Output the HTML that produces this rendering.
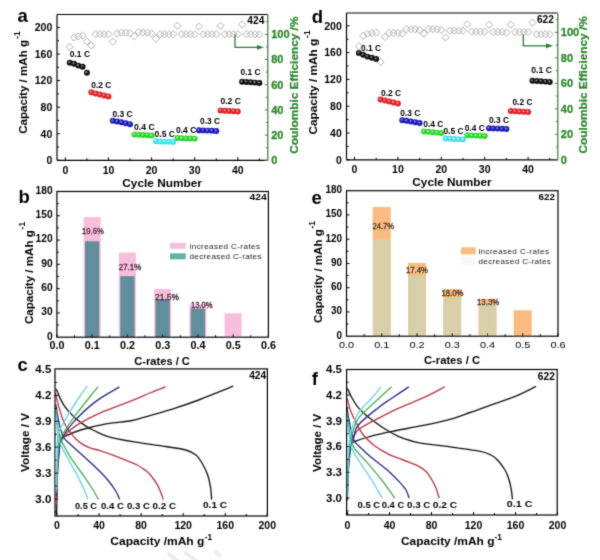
<!DOCTYPE html>
<html><head><meta charset="utf-8"><title>Rate performance</title>
<style>html,body{margin:0;padding:0;background:#fff;} svg{display:block;} text{font-family:'Liberation Sans', Arial, sans-serif;}</style>
</head><body>
<svg width="600" height="560" viewBox="0 0 600 560">
<defs><filter id="soft" x="0" y="0" width="600" height="560" filterUnits="userSpaceOnUse"><feConvolveMatrix order="3" kernelMatrix="0.0367 0.1915 0.0367 0.1915 1 0.1915 0.0367 0.1915 0.0367" divisor="1.9127" edgeMode="duplicate"/></filter></defs>
<rect width="600" height="560" fill="#fff"/>
<g filter="url(#soft)">
<path d="M69.71,43.4 L73.31,47 L69.71,50.6 L66.11,47 Z" fill="none" stroke="#a8a8a8" stroke-width="0.9"/>
<path d="M74.02,33.9 L77.62,37.5 L74.02,41.1 L70.42,37.5 Z" fill="none" stroke="#a8a8a8" stroke-width="0.9"/>
<path d="M78.33,32.8 L81.93,36.4 L78.33,40 L74.73,36.4 Z" fill="none" stroke="#a8a8a8" stroke-width="0.9"/>
<path d="M82.64,32 L86.24,35.6 L82.64,39.2 L79.04,35.6 Z" fill="none" stroke="#a8a8a8" stroke-width="0.9"/>
<path d="M86.95,37.9 L90.55,41.5 L86.95,45.1 L83.35,41.5 Z" fill="none" stroke="#a8a8a8" stroke-width="0.9"/>
<path d="M91.26,41.9 L94.86,45.5 L91.26,49.1 L87.66,45.5 Z" fill="none" stroke="#a8a8a8" stroke-width="0.9"/>
<path d="M95.57,30.6 L99.17,34.2 L95.57,37.8 L91.97,34.2 Z" fill="none" stroke="#a8a8a8" stroke-width="0.9"/>
<path d="M99.88,30.6 L103.48,34.2 L99.88,37.8 L96.28,34.2 Z" fill="none" stroke="#a8a8a8" stroke-width="0.9"/>
<path d="M104.19,30.6 L107.79,34.2 L104.19,37.8 L100.59,34.2 Z" fill="none" stroke="#a8a8a8" stroke-width="0.9"/>
<path d="M108.5,30.6 L112.1,34.2 L108.5,37.8 L104.9,34.2 Z" fill="none" stroke="#a8a8a8" stroke-width="0.9"/>
<path d="M112.81,38.1 L116.41,41.7 L112.81,45.3 L109.21,41.7 Z" fill="none" stroke="#a8a8a8" stroke-width="0.9"/>
<path d="M117.12,29.9 L120.72,33.5 L117.12,37.1 L113.52,33.5 Z" fill="none" stroke="#a8a8a8" stroke-width="0.9"/>
<path d="M121.43,29.1 L125.03,32.7 L121.43,36.3 L117.83,32.7 Z" fill="none" stroke="#a8a8a8" stroke-width="0.9"/>
<path d="M125.74,29.1 L129.34,32.7 L125.74,36.3 L122.14,32.7 Z" fill="none" stroke="#a8a8a8" stroke-width="0.9"/>
<path d="M130.05,29.6 L133.65,33.2 L130.05,36.8 L126.45,33.2 Z" fill="none" stroke="#a8a8a8" stroke-width="0.9"/>
<path d="M134.36,32.6 L137.96,36.2 L134.36,39.8 L130.76,36.2 Z" fill="none" stroke="#a8a8a8" stroke-width="0.9"/>
<path d="M138.67,28.4 L142.27,32 L138.67,35.6 L135.07,32 Z" fill="none" stroke="#a8a8a8" stroke-width="0.9"/>
<path d="M142.98,29.1 L146.58,32.7 L142.98,36.3 L139.38,32.7 Z" fill="none" stroke="#a8a8a8" stroke-width="0.9"/>
<path d="M147.29,29.1 L150.89,32.7 L147.29,36.3 L143.69,32.7 Z" fill="none" stroke="#a8a8a8" stroke-width="0.9"/>
<path d="M151.6,29.9 L155.2,33.5 L151.6,37.1 L148,33.5 Z" fill="none" stroke="#a8a8a8" stroke-width="0.9"/>
<path d="M155.91,35.1 L159.51,38.7 L155.91,42.3 L152.31,38.7 Z" fill="none" stroke="#a8a8a8" stroke-width="0.9"/>
<path d="M160.22,30.6 L163.82,34.2 L160.22,37.8 L156.62,34.2 Z" fill="none" stroke="#a8a8a8" stroke-width="0.9"/>
<path d="M164.53,30.6 L168.13,34.2 L164.53,37.8 L160.93,34.2 Z" fill="none" stroke="#a8a8a8" stroke-width="0.9"/>
<path d="M168.84,30.6 L172.44,34.2 L168.84,37.8 L165.24,34.2 Z" fill="none" stroke="#a8a8a8" stroke-width="0.9"/>
<path d="M173.15,30.6 L176.75,34.2 L173.15,37.8 L169.55,34.2 Z" fill="none" stroke="#a8a8a8" stroke-width="0.9"/>
<path d="M177.46,22.2 L181.06,25.8 L177.46,29.4 L173.86,25.8 Z" fill="none" stroke="#a8a8a8" stroke-width="0.9"/>
<path d="M181.77,30.6 L185.37,34.2 L181.77,37.8 L178.17,34.2 Z" fill="none" stroke="#a8a8a8" stroke-width="0.9"/>
<path d="M186.08,30.6 L189.68,34.2 L186.08,37.8 L182.48,34.2 Z" fill="none" stroke="#a8a8a8" stroke-width="0.9"/>
<path d="M190.39,30.6 L193.99,34.2 L190.39,37.8 L186.79,34.2 Z" fill="none" stroke="#a8a8a8" stroke-width="0.9"/>
<path d="M194.7,30.6 L198.3,34.2 L194.7,37.8 L191.1,34.2 Z" fill="none" stroke="#a8a8a8" stroke-width="0.9"/>
<path d="M199.01,22.9 L202.61,26.5 L199.01,30.1 L195.41,26.5 Z" fill="none" stroke="#a8a8a8" stroke-width="0.9"/>
<path d="M203.32,30.6 L206.92,34.2 L203.32,37.8 L199.72,34.2 Z" fill="none" stroke="#a8a8a8" stroke-width="0.9"/>
<path d="M207.63,30.6 L211.23,34.2 L207.63,37.8 L204.03,34.2 Z" fill="none" stroke="#a8a8a8" stroke-width="0.9"/>
<path d="M211.94,30.6 L215.54,34.2 L211.94,37.8 L208.34,34.2 Z" fill="none" stroke="#a8a8a8" stroke-width="0.9"/>
<path d="M216.25,30.6 L219.85,34.2 L216.25,37.8 L212.65,34.2 Z" fill="none" stroke="#a8a8a8" stroke-width="0.9"/>
<path d="M220.56,22.2 L224.16,25.8 L220.56,29.4 L216.96,25.8 Z" fill="none" stroke="#a8a8a8" stroke-width="0.9"/>
<path d="M224.87,30.6 L228.47,34.2 L224.87,37.8 L221.27,34.2 Z" fill="none" stroke="#a8a8a8" stroke-width="0.9"/>
<path d="M229.18,30.6 L232.78,34.2 L229.18,37.8 L225.58,34.2 Z" fill="none" stroke="#a8a8a8" stroke-width="0.9"/>
<path d="M233.49,30.6 L237.09,34.2 L233.49,37.8 L229.89,34.2 Z" fill="none" stroke="#a8a8a8" stroke-width="0.9"/>
<path d="M237.8,30.6 L241.4,34.2 L237.8,37.8 L234.2,34.2 Z" fill="none" stroke="#a8a8a8" stroke-width="0.9"/>
<path d="M242.11,20.9 L245.71,24.5 L242.11,28.1 L238.51,24.5 Z" fill="none" stroke="#a8a8a8" stroke-width="0.9"/>
<path d="M246.42,30.6 L250.02,34.2 L246.42,37.8 L242.82,34.2 Z" fill="none" stroke="#a8a8a8" stroke-width="0.9"/>
<path d="M250.73,30.6 L254.33,34.2 L250.73,37.8 L247.13,34.2 Z" fill="none" stroke="#a8a8a8" stroke-width="0.9"/>
<path d="M255.04,30.6 L258.64,34.2 L255.04,37.8 L251.44,34.2 Z" fill="none" stroke="#a8a8a8" stroke-width="0.9"/>
<path d="M259.35,31 L262.95,34.6 L259.35,38.2 L255.75,34.6 Z" fill="none" stroke="#a8a8a8" stroke-width="0.9"/>
<path d="M235,34.2 L235,47.3 L259,47.3" fill="none" stroke="#2f7a34" stroke-width="1.3"/>
<path d="M264,47.3 L257,44.9 L257,49.7 Z" fill="#2f7a34"/>
<circle cx="69.71" cy="62.7" r="2.95" fill="#111"/>
<circle cx="69.21" cy="62.1" r="0.9" fill="#8a8a8a"/>
<circle cx="74.02" cy="63.7" r="2.95" fill="#111"/>
<circle cx="73.52" cy="63.1" r="0.9" fill="#8a8a8a"/>
<circle cx="78.33" cy="65.6" r="2.95" fill="#111"/>
<circle cx="77.83" cy="65" r="0.9" fill="#8a8a8a"/>
<circle cx="82.64" cy="66.7" r="2.95" fill="#111"/>
<circle cx="82.14" cy="66.1" r="0.9" fill="#8a8a8a"/>
<circle cx="86.95" cy="72.8" r="2.95" fill="#111"/>
<circle cx="86.45" cy="72.2" r="0.9" fill="#8a8a8a"/>
<circle cx="91.26" cy="92.3" r="2.95" fill="#e0202a"/>
<circle cx="90.76" cy="91.7" r="0.9" fill="#ff9a9a"/>
<circle cx="95.57" cy="93.5" r="2.95" fill="#e0202a"/>
<circle cx="95.07" cy="92.9" r="0.9" fill="#ff9a9a"/>
<circle cx="99.88" cy="94.5" r="2.95" fill="#e0202a"/>
<circle cx="99.38" cy="93.9" r="0.9" fill="#ff9a9a"/>
<circle cx="104.19" cy="95.5" r="2.95" fill="#e0202a"/>
<circle cx="103.69" cy="94.9" r="0.9" fill="#ff9a9a"/>
<circle cx="108.5" cy="96.5" r="2.95" fill="#e0202a"/>
<circle cx="108" cy="95.9" r="0.9" fill="#ff9a9a"/>
<circle cx="112.81" cy="120.8" r="2.95" fill="#1a1ab8"/>
<circle cx="112.31" cy="120.2" r="0.9" fill="#8a8aff"/>
<circle cx="117.12" cy="121.5" r="2.95" fill="#1a1ab8"/>
<circle cx="116.62" cy="120.9" r="0.9" fill="#8a8aff"/>
<circle cx="121.43" cy="122.3" r="2.95" fill="#1a1ab8"/>
<circle cx="120.93" cy="121.7" r="0.9" fill="#8a8aff"/>
<circle cx="125.74" cy="123.2" r="2.95" fill="#1a1ab8"/>
<circle cx="125.24" cy="122.6" r="0.9" fill="#8a8aff"/>
<circle cx="130.05" cy="124.2" r="2.95" fill="#1a1ab8"/>
<circle cx="129.55" cy="123.6" r="0.9" fill="#8a8aff"/>
<circle cx="134.36" cy="134.6" r="2.95" fill="#2ed42e"/>
<circle cx="133.86" cy="134" r="0.9" fill="#aaffaa"/>
<circle cx="138.67" cy="134.8" r="2.95" fill="#2ed42e"/>
<circle cx="138.17" cy="134.2" r="0.9" fill="#aaffaa"/>
<circle cx="142.98" cy="135" r="2.95" fill="#2ed42e"/>
<circle cx="142.48" cy="134.4" r="0.9" fill="#aaffaa"/>
<circle cx="147.29" cy="135.2" r="2.95" fill="#2ed42e"/>
<circle cx="146.79" cy="134.6" r="0.9" fill="#aaffaa"/>
<circle cx="151.6" cy="135.5" r="2.95" fill="#2ed42e"/>
<circle cx="151.1" cy="134.9" r="0.9" fill="#aaffaa"/>
<circle cx="155.91" cy="141.3" r="2.95" fill="#3fe0f0"/>
<circle cx="155.41" cy="140.7" r="0.9" fill="#c8ffff"/>
<circle cx="160.22" cy="141.5" r="2.95" fill="#3fe0f0"/>
<circle cx="159.72" cy="140.9" r="0.9" fill="#c8ffff"/>
<circle cx="164.53" cy="141.7" r="2.95" fill="#3fe0f0"/>
<circle cx="164.03" cy="141.1" r="0.9" fill="#c8ffff"/>
<circle cx="168.84" cy="141.8" r="2.95" fill="#3fe0f0"/>
<circle cx="168.34" cy="141.2" r="0.9" fill="#c8ffff"/>
<circle cx="173.15" cy="142" r="2.95" fill="#3fe0f0"/>
<circle cx="172.65" cy="141.4" r="0.9" fill="#c8ffff"/>
<circle cx="177.46" cy="138" r="2.95" fill="#2ed42e"/>
<circle cx="176.96" cy="137.4" r="0.9" fill="#aaffaa"/>
<circle cx="181.77" cy="138.2" r="2.95" fill="#2ed42e"/>
<circle cx="181.27" cy="137.6" r="0.9" fill="#aaffaa"/>
<circle cx="186.08" cy="138.4" r="2.95" fill="#2ed42e"/>
<circle cx="185.58" cy="137.8" r="0.9" fill="#aaffaa"/>
<circle cx="190.39" cy="138.5" r="2.95" fill="#2ed42e"/>
<circle cx="189.89" cy="137.9" r="0.9" fill="#aaffaa"/>
<circle cx="194.7" cy="138.6" r="2.95" fill="#2ed42e"/>
<circle cx="194.2" cy="138" r="0.9" fill="#aaffaa"/>
<circle cx="199.01" cy="130.2" r="2.95" fill="#1a1ab8"/>
<circle cx="198.51" cy="129.6" r="0.9" fill="#8a8aff"/>
<circle cx="203.32" cy="130.4" r="2.95" fill="#1a1ab8"/>
<circle cx="202.82" cy="129.8" r="0.9" fill="#8a8aff"/>
<circle cx="207.63" cy="130.6" r="2.95" fill="#1a1ab8"/>
<circle cx="207.13" cy="130" r="0.9" fill="#8a8aff"/>
<circle cx="211.94" cy="130.8" r="2.95" fill="#1a1ab8"/>
<circle cx="211.44" cy="130.2" r="0.9" fill="#8a8aff"/>
<circle cx="216.25" cy="131" r="2.95" fill="#1a1ab8"/>
<circle cx="215.75" cy="130.4" r="0.9" fill="#8a8aff"/>
<circle cx="220.56" cy="110.5" r="2.95" fill="#e0202a"/>
<circle cx="220.06" cy="109.9" r="0.9" fill="#ff9a9a"/>
<circle cx="224.87" cy="110.8" r="2.95" fill="#e0202a"/>
<circle cx="224.37" cy="110.2" r="0.9" fill="#ff9a9a"/>
<circle cx="229.18" cy="111" r="2.95" fill="#e0202a"/>
<circle cx="228.68" cy="110.4" r="0.9" fill="#ff9a9a"/>
<circle cx="233.49" cy="111.2" r="2.95" fill="#e0202a"/>
<circle cx="232.99" cy="110.6" r="0.9" fill="#ff9a9a"/>
<circle cx="237.8" cy="111.5" r="2.95" fill="#e0202a"/>
<circle cx="237.3" cy="110.9" r="0.9" fill="#ff9a9a"/>
<circle cx="242.11" cy="81.8" r="2.95" fill="#111"/>
<circle cx="241.61" cy="81.2" r="0.9" fill="#8a8a8a"/>
<circle cx="246.42" cy="82" r="2.95" fill="#111"/>
<circle cx="245.92" cy="81.4" r="0.9" fill="#8a8a8a"/>
<circle cx="250.73" cy="82.3" r="2.95" fill="#111"/>
<circle cx="250.23" cy="81.7" r="0.9" fill="#8a8a8a"/>
<circle cx="255.04" cy="82.6" r="2.95" fill="#111"/>
<circle cx="254.54" cy="82" r="0.9" fill="#8a8a8a"/>
<circle cx="259.35" cy="83" r="2.95" fill="#111"/>
<circle cx="258.85" cy="82.4" r="0.9" fill="#8a8a8a"/>
<text x="69.8" y="56.9" font-size="8.6" font-weight="bold" textLength="20.2" lengthAdjust="spacingAndGlyphs">0.1 C</text>
<text x="91.2" y="88.1" font-size="8.6" font-weight="bold" textLength="20.2" lengthAdjust="spacingAndGlyphs">0.2 C</text>
<text x="112.5" y="116.5" font-size="8.6" font-weight="bold" textLength="20.2" lengthAdjust="spacingAndGlyphs">0.3 C</text>
<text x="134" y="129.8" font-size="8.6" font-weight="bold" textLength="20.7" lengthAdjust="spacingAndGlyphs">0.4 C</text>
<text x="154.5" y="136.9" font-size="8.6" font-weight="bold" textLength="20.5" lengthAdjust="spacingAndGlyphs">0.5 C</text>
<text x="176" y="133.1" font-size="8.6" font-weight="bold" textLength="20.4" lengthAdjust="spacingAndGlyphs">0.4 C</text>
<text x="200" y="124.1" font-size="8.6" font-weight="bold" textLength="20" lengthAdjust="spacingAndGlyphs">0.3 C</text>
<text x="220.4" y="104.1" font-size="8.6" font-weight="bold" textLength="20.6" lengthAdjust="spacingAndGlyphs">0.2 C</text>
<text x="240.5" y="74.8" font-size="8.6" font-weight="bold" textLength="20" lengthAdjust="spacingAndGlyphs">0.1 C</text>
<line x1="57" y1="14.5" x2="267.8" y2="14.5" stroke="#000" stroke-width="1.2"/>
<line x1="57" y1="14.5" x2="57" y2="160.3" stroke="#000" stroke-width="1.2"/>
<line x1="57" y1="160.3" x2="267.8" y2="160.3" stroke="#000" stroke-width="1.2"/>
<line x1="267.8" y1="14.5" x2="267.8" y2="160.3" stroke="#527c52" stroke-width="1.3"/>
<line x1="65.4" y1="160.3" x2="65.4" y2="157.3" stroke="#000" stroke-width="1"/>
<line x1="86.95" y1="160.3" x2="86.95" y2="158.3" stroke="#000" stroke-width="1"/>
<line x1="108.5" y1="160.3" x2="108.5" y2="157.3" stroke="#000" stroke-width="1"/>
<line x1="130.05" y1="160.3" x2="130.05" y2="158.3" stroke="#000" stroke-width="1"/>
<line x1="151.6" y1="160.3" x2="151.6" y2="157.3" stroke="#000" stroke-width="1"/>
<line x1="173.15" y1="160.3" x2="173.15" y2="158.3" stroke="#000" stroke-width="1"/>
<line x1="194.7" y1="160.3" x2="194.7" y2="157.3" stroke="#000" stroke-width="1"/>
<line x1="216.25" y1="160.3" x2="216.25" y2="158.3" stroke="#000" stroke-width="1"/>
<line x1="237.8" y1="160.3" x2="237.8" y2="157.3" stroke="#000" stroke-width="1"/>
<line x1="259.35" y1="160.3" x2="259.35" y2="158.3" stroke="#000" stroke-width="1"/>
<line x1="57" y1="160.3" x2="60" y2="160.3" stroke="#000" stroke-width="1"/>
<line x1="57" y1="147.01" x2="59" y2="147.01" stroke="#000" stroke-width="1"/>
<line x1="57" y1="133.72" x2="60" y2="133.72" stroke="#000" stroke-width="1"/>
<line x1="57" y1="120.43" x2="59" y2="120.43" stroke="#000" stroke-width="1"/>
<line x1="57" y1="107.14" x2="60" y2="107.14" stroke="#000" stroke-width="1"/>
<line x1="57" y1="93.85" x2="59" y2="93.85" stroke="#000" stroke-width="1"/>
<line x1="57" y1="80.56" x2="60" y2="80.56" stroke="#000" stroke-width="1"/>
<line x1="57" y1="67.27" x2="59" y2="67.27" stroke="#000" stroke-width="1"/>
<line x1="57" y1="53.98" x2="60" y2="53.98" stroke="#000" stroke-width="1"/>
<line x1="57" y1="40.69" x2="59" y2="40.69" stroke="#000" stroke-width="1"/>
<line x1="57" y1="27.4" x2="60" y2="27.4" stroke="#000" stroke-width="1"/>
<line x1="267.8" y1="160.3" x2="264.8" y2="160.3" stroke="#527c52" stroke-width="1"/>
<line x1="267.8" y1="147.7" x2="265.8" y2="147.7" stroke="#527c52" stroke-width="1"/>
<line x1="267.8" y1="135.1" x2="264.8" y2="135.1" stroke="#527c52" stroke-width="1"/>
<line x1="267.8" y1="122.5" x2="265.8" y2="122.5" stroke="#527c52" stroke-width="1"/>
<line x1="267.8" y1="109.9" x2="264.8" y2="109.9" stroke="#527c52" stroke-width="1"/>
<line x1="267.8" y1="97.3" x2="265.8" y2="97.3" stroke="#527c52" stroke-width="1"/>
<line x1="267.8" y1="84.7" x2="264.8" y2="84.7" stroke="#527c52" stroke-width="1"/>
<line x1="267.8" y1="72.1" x2="265.8" y2="72.1" stroke="#527c52" stroke-width="1"/>
<line x1="267.8" y1="59.5" x2="264.8" y2="59.5" stroke="#527c52" stroke-width="1"/>
<line x1="267.8" y1="46.9" x2="265.8" y2="46.9" stroke="#527c52" stroke-width="1"/>
<line x1="267.8" y1="34.3" x2="264.8" y2="34.3" stroke="#527c52" stroke-width="1"/>
<line x1="267.8" y1="21.7" x2="265.8" y2="21.7" stroke="#527c52" stroke-width="1"/>
<text x="65.4" y="173.78" font-size="10.5" font-weight="bold" text-anchor="middle">0</text>
<text x="108.5" y="173.78" font-size="10.5" font-weight="bold" text-anchor="middle">10</text>
<text x="151.6" y="173.78" font-size="10.5" font-weight="bold" text-anchor="middle">20</text>
<text x="194.7" y="173.78" font-size="10.5" font-weight="bold" text-anchor="middle">30</text>
<text x="237.8" y="173.78" font-size="10.5" font-weight="bold" text-anchor="middle">40</text>
<text x="52.3" y="164.08" font-size="10.5" font-weight="bold" text-anchor="end">0</text>
<text x="52.3" y="137.5" font-size="10.5" font-weight="bold" text-anchor="end">40</text>
<text x="52.3" y="110.92" font-size="10.5" font-weight="bold" text-anchor="end">80</text>
<text x="52.3" y="84.34" font-size="10.5" font-weight="bold" text-anchor="end">120</text>
<text x="52.3" y="57.76" font-size="10.5" font-weight="bold" text-anchor="end">160</text>
<text x="52.3" y="31.18" font-size="10.5" font-weight="bold" text-anchor="end">200</text>
<text x="271.2" y="164.26" font-size="11" font-weight="bold" fill="#2b872b" stroke="#2b872b" stroke-width="0.3">0</text>
<text x="271.2" y="139.06" font-size="11" font-weight="bold" fill="#2b872b" stroke="#2b872b" stroke-width="0.3">20</text>
<text x="271.2" y="113.86" font-size="11" font-weight="bold" fill="#2b872b" stroke="#2b872b" stroke-width="0.3">40</text>
<text x="271.2" y="88.66" font-size="11" font-weight="bold" fill="#2b872b" stroke="#2b872b" stroke-width="0.3">60</text>
<text x="271.2" y="63.46" font-size="11" font-weight="bold" fill="#2b872b" stroke="#2b872b" stroke-width="0.3">80</text>
<text x="271.2" y="38.26" font-size="11" font-weight="bold" fill="#2b872b" stroke="#2b872b" stroke-width="0.3">100</text>
<text x="247.3" y="23.8" font-size="10" font-weight="bold" textLength="17" lengthAdjust="spacingAndGlyphs">424</text>
<text x="122.3" y="186.6" font-size="11.6" font-weight="bold" textLength="79.6" lengthAdjust="spacingAndGlyphs">Cycle Number</text>
<text transform="translate(26.8,133.8) rotate(-90)" font-size="11.6" font-weight="bold" textLength="93.8" lengthAdjust="spacingAndGlyphs">Capacity / mAh g</text>
<text transform="translate(20.4,38.8) rotate(-90)" font-size="8.4" font-weight="bold">-1</text>
<text transform="translate(297.8,153.8) rotate(-90)" font-size="11.6" font-weight="bold" fill="#2b872b" stroke="#2b872b" stroke-width="0.25" textLength="137.2" lengthAdjust="spacingAndGlyphs">Coulombic Efficiency /%</text>
<text x="17.6" y="22.4" font-size="18.5" font-weight="bold">a</text>
<path d="M358.84,42.5 L362.44,46.1 L358.84,49.7 L355.24,46.1 Z" fill="none" stroke="#a8a8a8" stroke-width="0.9"/>
<path d="M363.18,32 L366.78,35.6 L363.18,39.2 L359.58,35.6 Z" fill="none" stroke="#a8a8a8" stroke-width="0.9"/>
<path d="M367.52,30.2 L371.12,33.8 L367.52,37.4 L363.92,33.8 Z" fill="none" stroke="#a8a8a8" stroke-width="0.9"/>
<path d="M371.86,29.7 L375.46,33.3 L371.86,36.9 L368.26,33.3 Z" fill="none" stroke="#a8a8a8" stroke-width="0.9"/>
<path d="M376.2,29.1 L379.8,32.7 L376.2,36.3 L372.6,32.7 Z" fill="none" stroke="#a8a8a8" stroke-width="0.9"/>
<path d="M380.54,58.4 L384.14,62 L380.54,65.6 L376.94,62 Z" fill="none" stroke="#a8a8a8" stroke-width="0.9"/>
<path d="M384.88,33.3 L388.48,36.9 L384.88,40.5 L381.28,36.9 Z" fill="none" stroke="#a8a8a8" stroke-width="0.9"/>
<path d="M389.22,29.4 L392.82,33 L389.22,36.6 L385.62,33 Z" fill="none" stroke="#a8a8a8" stroke-width="0.9"/>
<path d="M393.56,29.4 L397.16,33 L393.56,36.6 L389.96,33 Z" fill="none" stroke="#a8a8a8" stroke-width="0.9"/>
<path d="M397.9,29.4 L401.5,33 L397.9,36.6 L394.3,33 Z" fill="none" stroke="#a8a8a8" stroke-width="0.9"/>
<path d="M402.24,30.1 L405.84,33.7 L402.24,37.3 L398.64,33.7 Z" fill="none" stroke="#a8a8a8" stroke-width="0.9"/>
<path d="M406.58,25.6 L410.18,29.2 L406.58,32.8 L402.98,29.2 Z" fill="none" stroke="#a8a8a8" stroke-width="0.9"/>
<path d="M410.92,25.6 L414.52,29.2 L410.92,32.8 L407.32,29.2 Z" fill="none" stroke="#a8a8a8" stroke-width="0.9"/>
<path d="M415.26,25.6 L418.86,29.2 L415.26,32.8 L411.66,29.2 Z" fill="none" stroke="#a8a8a8" stroke-width="0.9"/>
<path d="M419.6,26.4 L423.2,30 L419.6,33.6 L416,30 Z" fill="none" stroke="#a8a8a8" stroke-width="0.9"/>
<path d="M423.94,29.9 L427.54,33.5 L423.94,37.1 L420.34,33.5 Z" fill="none" stroke="#a8a8a8" stroke-width="0.9"/>
<path d="M428.28,25.6 L431.88,29.2 L428.28,32.8 L424.68,29.2 Z" fill="none" stroke="#a8a8a8" stroke-width="0.9"/>
<path d="M432.62,25.6 L436.22,29.2 L432.62,32.8 L429.02,29.2 Z" fill="none" stroke="#a8a8a8" stroke-width="0.9"/>
<path d="M436.96,25.6 L440.56,29.2 L436.96,32.8 L433.36,29.2 Z" fill="none" stroke="#a8a8a8" stroke-width="0.9"/>
<path d="M441.3,26.4 L444.9,30 L441.3,33.6 L437.7,30 Z" fill="none" stroke="#a8a8a8" stroke-width="0.9"/>
<path d="M445.64,33.9 L449.24,37.5 L445.64,41.1 L442.04,37.5 Z" fill="none" stroke="#a8a8a8" stroke-width="0.9"/>
<path d="M449.98,27.1 L453.58,30.7 L449.98,34.3 L446.38,30.7 Z" fill="none" stroke="#a8a8a8" stroke-width="0.9"/>
<path d="M454.32,27.1 L457.92,30.7 L454.32,34.3 L450.72,30.7 Z" fill="none" stroke="#a8a8a8" stroke-width="0.9"/>
<path d="M458.66,27.1 L462.26,30.7 L458.66,34.3 L455.06,30.7 Z" fill="none" stroke="#a8a8a8" stroke-width="0.9"/>
<path d="M463,27.1 L466.6,30.7 L463,34.3 L459.4,30.7 Z" fill="none" stroke="#a8a8a8" stroke-width="0.9"/>
<path d="M467.34,20.6 L470.94,24.2 L467.34,27.8 L463.74,24.2 Z" fill="none" stroke="#a8a8a8" stroke-width="0.9"/>
<path d="M471.68,28.1 L475.28,31.7 L471.68,35.3 L468.08,31.7 Z" fill="none" stroke="#a8a8a8" stroke-width="0.9"/>
<path d="M476.02,28.1 L479.62,31.7 L476.02,35.3 L472.42,31.7 Z" fill="none" stroke="#a8a8a8" stroke-width="0.9"/>
<path d="M480.36,28.1 L483.96,31.7 L480.36,35.3 L476.76,31.7 Z" fill="none" stroke="#a8a8a8" stroke-width="0.9"/>
<path d="M484.7,28.1 L488.3,31.7 L484.7,35.3 L481.1,31.7 Z" fill="none" stroke="#a8a8a8" stroke-width="0.9"/>
<path d="M489.04,21.1 L492.64,24.7 L489.04,28.3 L485.44,24.7 Z" fill="none" stroke="#a8a8a8" stroke-width="0.9"/>
<path d="M493.38,28.4 L496.98,32 L493.38,35.6 L489.78,32 Z" fill="none" stroke="#a8a8a8" stroke-width="0.9"/>
<path d="M497.72,28.4 L501.32,32 L497.72,35.6 L494.12,32 Z" fill="none" stroke="#a8a8a8" stroke-width="0.9"/>
<path d="M502.06,28.4 L505.66,32 L502.06,35.6 L498.46,32 Z" fill="none" stroke="#a8a8a8" stroke-width="0.9"/>
<path d="M506.4,28.9 L510,32.5 L506.4,36.1 L502.8,32.5 Z" fill="none" stroke="#a8a8a8" stroke-width="0.9"/>
<path d="M510.74,21.1 L514.34,24.7 L510.74,28.3 L507.14,24.7 Z" fill="none" stroke="#a8a8a8" stroke-width="0.9"/>
<path d="M515.08,28.4 L518.68,32 L515.08,35.6 L511.48,32 Z" fill="none" stroke="#a8a8a8" stroke-width="0.9"/>
<path d="M519.42,28.4 L523.02,32 L519.42,35.6 L515.82,32 Z" fill="none" stroke="#a8a8a8" stroke-width="0.9"/>
<path d="M523.76,28.4 L527.36,32 L523.76,35.6 L520.16,32 Z" fill="none" stroke="#a8a8a8" stroke-width="0.9"/>
<path d="M528.1,28.4 L531.7,32 L528.1,35.6 L524.5,32 Z" fill="none" stroke="#a8a8a8" stroke-width="0.9"/>
<path d="M532.44,18.9 L536.04,22.5 L532.44,26.1 L528.84,22.5 Z" fill="none" stroke="#a8a8a8" stroke-width="0.9"/>
<path d="M536.78,30.6 L540.38,34.2 L536.78,37.8 L533.18,34.2 Z" fill="none" stroke="#a8a8a8" stroke-width="0.9"/>
<path d="M541.12,30.6 L544.72,34.2 L541.12,37.8 L537.52,34.2 Z" fill="none" stroke="#a8a8a8" stroke-width="0.9"/>
<path d="M545.46,30.6 L549.06,34.2 L545.46,37.8 L541.86,34.2 Z" fill="none" stroke="#a8a8a8" stroke-width="0.9"/>
<path d="M549.8,30.6 L553.4,34.2 L549.8,37.8 L546.2,34.2 Z" fill="none" stroke="#a8a8a8" stroke-width="0.9"/>
<path d="M523.3,34.2 L523.3,45.8 L548,45.8" fill="none" stroke="#2f7a34" stroke-width="1.3"/>
<path d="M553,45.8 L546,43.4 L546,48.2 Z" fill="#2f7a34"/>
<circle cx="358.84" cy="52.9" r="2.95" fill="#111"/>
<circle cx="358.34" cy="52.3" r="0.9" fill="#8a8a8a"/>
<circle cx="363.18" cy="54.7" r="2.95" fill="#111"/>
<circle cx="362.68" cy="54.1" r="0.9" fill="#8a8a8a"/>
<circle cx="367.52" cy="56.6" r="2.95" fill="#111"/>
<circle cx="367.02" cy="56" r="0.9" fill="#8a8a8a"/>
<circle cx="371.86" cy="57.7" r="2.95" fill="#111"/>
<circle cx="371.36" cy="57.1" r="0.9" fill="#8a8a8a"/>
<circle cx="376.2" cy="59" r="2.95" fill="#111"/>
<circle cx="375.7" cy="58.4" r="0.9" fill="#8a8a8a"/>
<circle cx="380.54" cy="99.5" r="2.95" fill="#e0202a"/>
<circle cx="380.04" cy="98.9" r="0.9" fill="#ff9a9a"/>
<circle cx="384.88" cy="100.5" r="2.95" fill="#e0202a"/>
<circle cx="384.38" cy="99.9" r="0.9" fill="#ff9a9a"/>
<circle cx="389.22" cy="101.5" r="2.95" fill="#e0202a"/>
<circle cx="388.72" cy="100.9" r="0.9" fill="#ff9a9a"/>
<circle cx="393.56" cy="102.5" r="2.95" fill="#e0202a"/>
<circle cx="393.06" cy="101.9" r="0.9" fill="#ff9a9a"/>
<circle cx="397.9" cy="103.5" r="2.95" fill="#e0202a"/>
<circle cx="397.4" cy="102.9" r="0.9" fill="#ff9a9a"/>
<circle cx="402.24" cy="120.3" r="2.95" fill="#1a1ab8"/>
<circle cx="401.74" cy="119.7" r="0.9" fill="#8a8aff"/>
<circle cx="406.58" cy="120.8" r="2.95" fill="#1a1ab8"/>
<circle cx="406.08" cy="120.2" r="0.9" fill="#8a8aff"/>
<circle cx="410.92" cy="121.5" r="2.95" fill="#1a1ab8"/>
<circle cx="410.42" cy="120.9" r="0.9" fill="#8a8aff"/>
<circle cx="415.26" cy="122.2" r="2.95" fill="#1a1ab8"/>
<circle cx="414.76" cy="121.6" r="0.9" fill="#8a8aff"/>
<circle cx="419.6" cy="123" r="2.95" fill="#1a1ab8"/>
<circle cx="419.1" cy="122.4" r="0.9" fill="#8a8aff"/>
<circle cx="423.94" cy="131.5" r="2.95" fill="#2ed42e"/>
<circle cx="423.44" cy="130.9" r="0.9" fill="#aaffaa"/>
<circle cx="428.28" cy="131.8" r="2.95" fill="#2ed42e"/>
<circle cx="427.78" cy="131.2" r="0.9" fill="#aaffaa"/>
<circle cx="432.62" cy="132.2" r="2.95" fill="#2ed42e"/>
<circle cx="432.12" cy="131.6" r="0.9" fill="#aaffaa"/>
<circle cx="436.96" cy="132.6" r="2.95" fill="#2ed42e"/>
<circle cx="436.46" cy="132" r="0.9" fill="#aaffaa"/>
<circle cx="441.3" cy="133" r="2.95" fill="#2ed42e"/>
<circle cx="440.8" cy="132.4" r="0.9" fill="#aaffaa"/>
<circle cx="445.64" cy="138.5" r="2.95" fill="#3fe0f0"/>
<circle cx="445.14" cy="137.9" r="0.9" fill="#c8ffff"/>
<circle cx="449.98" cy="138.7" r="2.95" fill="#3fe0f0"/>
<circle cx="449.48" cy="138.1" r="0.9" fill="#c8ffff"/>
<circle cx="454.32" cy="139" r="2.95" fill="#3fe0f0"/>
<circle cx="453.82" cy="138.4" r="0.9" fill="#c8ffff"/>
<circle cx="458.66" cy="139.2" r="2.95" fill="#3fe0f0"/>
<circle cx="458.16" cy="138.6" r="0.9" fill="#c8ffff"/>
<circle cx="463" cy="139.4" r="2.95" fill="#3fe0f0"/>
<circle cx="462.5" cy="138.8" r="0.9" fill="#c8ffff"/>
<circle cx="467.34" cy="135.2" r="2.95" fill="#2ed42e"/>
<circle cx="466.84" cy="134.6" r="0.9" fill="#aaffaa"/>
<circle cx="471.68" cy="135.4" r="2.95" fill="#2ed42e"/>
<circle cx="471.18" cy="134.8" r="0.9" fill="#aaffaa"/>
<circle cx="476.02" cy="135.6" r="2.95" fill="#2ed42e"/>
<circle cx="475.52" cy="135" r="0.9" fill="#aaffaa"/>
<circle cx="480.36" cy="135.8" r="2.95" fill="#2ed42e"/>
<circle cx="479.86" cy="135.2" r="0.9" fill="#aaffaa"/>
<circle cx="484.7" cy="136" r="2.95" fill="#2ed42e"/>
<circle cx="484.2" cy="135.4" r="0.9" fill="#aaffaa"/>
<circle cx="489.04" cy="128.2" r="2.95" fill="#1a1ab8"/>
<circle cx="488.54" cy="127.6" r="0.9" fill="#8a8aff"/>
<circle cx="493.38" cy="128.4" r="2.95" fill="#1a1ab8"/>
<circle cx="492.88" cy="127.8" r="0.9" fill="#8a8aff"/>
<circle cx="497.72" cy="128.6" r="2.95" fill="#1a1ab8"/>
<circle cx="497.22" cy="128" r="0.9" fill="#8a8aff"/>
<circle cx="502.06" cy="128.8" r="2.95" fill="#1a1ab8"/>
<circle cx="501.56" cy="128.2" r="0.9" fill="#8a8aff"/>
<circle cx="506.4" cy="129" r="2.95" fill="#1a1ab8"/>
<circle cx="505.9" cy="128.4" r="0.9" fill="#8a8aff"/>
<circle cx="510.74" cy="111" r="2.95" fill="#e0202a"/>
<circle cx="510.24" cy="110.4" r="0.9" fill="#ff9a9a"/>
<circle cx="515.08" cy="111.3" r="2.95" fill="#e0202a"/>
<circle cx="514.58" cy="110.7" r="0.9" fill="#ff9a9a"/>
<circle cx="519.42" cy="111.5" r="2.95" fill="#e0202a"/>
<circle cx="518.92" cy="110.9" r="0.9" fill="#ff9a9a"/>
<circle cx="523.76" cy="111.8" r="2.95" fill="#e0202a"/>
<circle cx="523.26" cy="111.2" r="0.9" fill="#ff9a9a"/>
<circle cx="528.1" cy="112" r="2.95" fill="#e0202a"/>
<circle cx="527.6" cy="111.4" r="0.9" fill="#ff9a9a"/>
<circle cx="532.44" cy="80.8" r="2.95" fill="#111"/>
<circle cx="531.94" cy="80.2" r="0.9" fill="#8a8a8a"/>
<circle cx="536.78" cy="81" r="2.95" fill="#111"/>
<circle cx="536.28" cy="80.4" r="0.9" fill="#8a8a8a"/>
<circle cx="541.12" cy="81.3" r="2.95" fill="#111"/>
<circle cx="540.62" cy="80.7" r="0.9" fill="#8a8a8a"/>
<circle cx="545.46" cy="81.6" r="2.95" fill="#111"/>
<circle cx="544.96" cy="81" r="0.9" fill="#8a8a8a"/>
<circle cx="549.8" cy="82" r="2.95" fill="#111"/>
<circle cx="549.3" cy="81.4" r="0.9" fill="#8a8a8a"/>
<text x="361" y="50.7" font-size="8.6" font-weight="bold" textLength="20.2" lengthAdjust="spacingAndGlyphs">0.1 C</text>
<text x="381" y="95.9" font-size="8.6" font-weight="bold" textLength="20.2" lengthAdjust="spacingAndGlyphs">0.2 C</text>
<text x="400.3" y="116.1" font-size="8.6" font-weight="bold" textLength="20.1" lengthAdjust="spacingAndGlyphs">0.3 C</text>
<text x="423.2" y="126.7" font-size="8.6" font-weight="bold" textLength="20.2" lengthAdjust="spacingAndGlyphs">0.4 C</text>
<text x="443.4" y="134.1" font-size="8.6" font-weight="bold" textLength="20.1" lengthAdjust="spacingAndGlyphs">0.5 C</text>
<text x="464.7" y="131.1" font-size="8.6" font-weight="bold" textLength="20.1" lengthAdjust="spacingAndGlyphs">0.4 C</text>
<text x="488.9" y="123.1" font-size="8.6" font-weight="bold" textLength="20.1" lengthAdjust="spacingAndGlyphs">0.3 C</text>
<text x="512.4" y="105.1" font-size="8.6" font-weight="bold" textLength="20.1" lengthAdjust="spacingAndGlyphs">0.2 C</text>
<text x="531.3" y="73.4" font-size="8.6" font-weight="bold" textLength="20.6" lengthAdjust="spacingAndGlyphs">0.1 C</text>
<line x1="346.5" y1="13" x2="557.8" y2="13" stroke="#000" stroke-width="1.2"/>
<line x1="346.5" y1="13" x2="346.5" y2="159.8" stroke="#000" stroke-width="1.2"/>
<line x1="346.5" y1="159.8" x2="557.8" y2="159.8" stroke="#000" stroke-width="1.2"/>
<line x1="557.8" y1="13" x2="557.8" y2="159.8" stroke="#527c52" stroke-width="1.3"/>
<line x1="354.5" y1="159.8" x2="354.5" y2="156.8" stroke="#000" stroke-width="1"/>
<line x1="376.2" y1="159.8" x2="376.2" y2="157.8" stroke="#000" stroke-width="1"/>
<line x1="397.9" y1="159.8" x2="397.9" y2="156.8" stroke="#000" stroke-width="1"/>
<line x1="419.6" y1="159.8" x2="419.6" y2="157.8" stroke="#000" stroke-width="1"/>
<line x1="441.3" y1="159.8" x2="441.3" y2="156.8" stroke="#000" stroke-width="1"/>
<line x1="463" y1="159.8" x2="463" y2="157.8" stroke="#000" stroke-width="1"/>
<line x1="484.7" y1="159.8" x2="484.7" y2="156.8" stroke="#000" stroke-width="1"/>
<line x1="506.4" y1="159.8" x2="506.4" y2="157.8" stroke="#000" stroke-width="1"/>
<line x1="528.1" y1="159.8" x2="528.1" y2="156.8" stroke="#000" stroke-width="1"/>
<line x1="549.8" y1="159.8" x2="549.8" y2="157.8" stroke="#000" stroke-width="1"/>
<line x1="346.5" y1="159.8" x2="349.5" y2="159.8" stroke="#000" stroke-width="1"/>
<line x1="346.5" y1="146.4" x2="348.5" y2="146.4" stroke="#000" stroke-width="1"/>
<line x1="346.5" y1="133" x2="349.5" y2="133" stroke="#000" stroke-width="1"/>
<line x1="346.5" y1="119.6" x2="348.5" y2="119.6" stroke="#000" stroke-width="1"/>
<line x1="346.5" y1="106.2" x2="349.5" y2="106.2" stroke="#000" stroke-width="1"/>
<line x1="346.5" y1="92.8" x2="348.5" y2="92.8" stroke="#000" stroke-width="1"/>
<line x1="346.5" y1="79.4" x2="349.5" y2="79.4" stroke="#000" stroke-width="1"/>
<line x1="346.5" y1="66" x2="348.5" y2="66" stroke="#000" stroke-width="1"/>
<line x1="346.5" y1="52.6" x2="349.5" y2="52.6" stroke="#000" stroke-width="1"/>
<line x1="346.5" y1="39.2" x2="348.5" y2="39.2" stroke="#000" stroke-width="1"/>
<line x1="346.5" y1="25.8" x2="349.5" y2="25.8" stroke="#000" stroke-width="1"/>
<line x1="557.8" y1="159.8" x2="554.8" y2="159.8" stroke="#527c52" stroke-width="1"/>
<line x1="557.8" y1="147.06" x2="555.8" y2="147.06" stroke="#527c52" stroke-width="1"/>
<line x1="557.8" y1="134.32" x2="554.8" y2="134.32" stroke="#527c52" stroke-width="1"/>
<line x1="557.8" y1="121.58" x2="555.8" y2="121.58" stroke="#527c52" stroke-width="1"/>
<line x1="557.8" y1="108.84" x2="554.8" y2="108.84" stroke="#527c52" stroke-width="1"/>
<line x1="557.8" y1="96.1" x2="555.8" y2="96.1" stroke="#527c52" stroke-width="1"/>
<line x1="557.8" y1="83.36" x2="554.8" y2="83.36" stroke="#527c52" stroke-width="1"/>
<line x1="557.8" y1="70.62" x2="555.8" y2="70.62" stroke="#527c52" stroke-width="1"/>
<line x1="557.8" y1="57.88" x2="554.8" y2="57.88" stroke="#527c52" stroke-width="1"/>
<line x1="557.8" y1="45.14" x2="555.8" y2="45.14" stroke="#527c52" stroke-width="1"/>
<line x1="557.8" y1="32.4" x2="554.8" y2="32.4" stroke="#527c52" stroke-width="1"/>
<line x1="557.8" y1="19.66" x2="555.8" y2="19.66" stroke="#527c52" stroke-width="1"/>
<text x="354.5" y="172.98" font-size="10.5" font-weight="bold" text-anchor="middle">0</text>
<text x="397.9" y="172.98" font-size="10.5" font-weight="bold" text-anchor="middle">10</text>
<text x="441.3" y="172.98" font-size="10.5" font-weight="bold" text-anchor="middle">20</text>
<text x="484.7" y="172.98" font-size="10.5" font-weight="bold" text-anchor="middle">30</text>
<text x="528.1" y="172.98" font-size="10.5" font-weight="bold" text-anchor="middle">40</text>
<text x="341.8" y="163.58" font-size="10.5" font-weight="bold" text-anchor="end">0</text>
<text x="341.8" y="136.78" font-size="10.5" font-weight="bold" text-anchor="end">40</text>
<text x="341.8" y="109.98" font-size="10.5" font-weight="bold" text-anchor="end">80</text>
<text x="341.8" y="83.18" font-size="10.5" font-weight="bold" text-anchor="end">120</text>
<text x="341.8" y="56.38" font-size="10.5" font-weight="bold" text-anchor="end">160</text>
<text x="341.8" y="29.58" font-size="10.5" font-weight="bold" text-anchor="end">200</text>
<text x="560.8" y="163.76" font-size="11" font-weight="bold" fill="#2b872b" stroke="#2b872b" stroke-width="0.3">0</text>
<text x="560.8" y="138.28" font-size="11" font-weight="bold" fill="#2b872b" stroke="#2b872b" stroke-width="0.3">20</text>
<text x="560.8" y="112.8" font-size="11" font-weight="bold" fill="#2b872b" stroke="#2b872b" stroke-width="0.3">40</text>
<text x="560.8" y="87.32" font-size="11" font-weight="bold" fill="#2b872b" stroke="#2b872b" stroke-width="0.3">60</text>
<text x="560.8" y="61.84" font-size="11" font-weight="bold" fill="#2b872b" stroke="#2b872b" stroke-width="0.3">80</text>
<text x="560.8" y="36.36" font-size="11" font-weight="bold" fill="#2b872b" stroke="#2b872b" stroke-width="0.3">100</text>
<text x="537" y="22.8" font-size="10" font-weight="bold" textLength="16.8" lengthAdjust="spacingAndGlyphs">622</text>
<text x="412.3" y="185.6" font-size="11.6" font-weight="bold" textLength="79.4" lengthAdjust="spacingAndGlyphs">Cycle Number</text>
<text transform="translate(316.5,134.6) rotate(-90)" font-size="11.6" font-weight="bold" textLength="95.9" lengthAdjust="spacingAndGlyphs">Capacity / mAh g</text>
<text transform="translate(310.1,37.9) rotate(-90)" font-size="8.4" font-weight="bold">-1</text>
<text transform="translate(587.3,153.5) rotate(-90)" font-size="11.6" font-weight="bold" fill="#2b872b" stroke="#2b872b" stroke-width="0.25" textLength="137.2" lengthAdjust="spacingAndGlyphs">Coulombic Efficiency /%</text>
<text x="311.8" y="22.7" font-size="18.5" font-weight="bold">d</text>
<rect x="83.65" y="217.16" width="17" height="120.04" fill="#f7bedc"/>
<rect x="84.95" y="241.2" width="14.4" height="96" fill="#5e8e9d"/>
<rect x="118.9" y="252.61" width="17" height="84.59" fill="#f7bedc"/>
<rect x="120.2" y="276.09" width="14.4" height="61.11" fill="#5e8e9d"/>
<rect x="154.15" y="289.04" width="17" height="48.16" fill="#f7bedc"/>
<rect x="155.45" y="299.16" width="14.4" height="38.04" fill="#5e8e9d"/>
<rect x="189.4" y="304.17" width="17" height="33.03" fill="#f7bedc"/>
<rect x="190.7" y="308.63" width="14.4" height="28.57" fill="#5e8e9d"/>
<rect x="224.65" y="313.32" width="17" height="23.88" fill="#f7bedc"/>
<text x="82" y="233.6" font-size="9" fill="#3a1432" textLength="21.7" lengthAdjust="spacingAndGlyphs" stroke="#3a1432" stroke-width="0.35">19.6%</text>
<text x="118.8" y="269.5" font-size="9" fill="#3a1432" textLength="22.4" lengthAdjust="spacingAndGlyphs" stroke="#3a1432" stroke-width="0.35">27.1%</text>
<text x="155" y="299.6" font-size="9" fill="#3a1432" textLength="24" lengthAdjust="spacingAndGlyphs" stroke="#3a1432" stroke-width="0.35">21.5%</text>
<text x="191" y="307.9" font-size="9" fill="#3a1432" textLength="21.6" lengthAdjust="spacingAndGlyphs" stroke="#3a1432" stroke-width="0.35">13.0%</text>
<rect x="170" y="242.8" width="15.7" height="6" fill="#f7bedc"/>
<rect x="170" y="253.3" width="15.7" height="6" fill="#64b0aa"/>
<text x="189.5" y="248.5" font-size="8.1" fill="#222" textLength="70.5" lengthAdjust="spacing">increased C-rates</text>
<text x="189.5" y="258.9" font-size="8.1" fill="#222" textLength="72" lengthAdjust="spacing">decreased C-rates</text>
<rect x="56.9" y="191.5" width="211.5" height="145.7" fill="none" stroke="#000" stroke-width="1.2"/>
<line x1="56.9" y1="337.2" x2="56.9" y2="334.2" stroke="#000" stroke-width="1"/>
<line x1="74.53" y1="337.2" x2="74.53" y2="335.2" stroke="#000" stroke-width="1"/>
<line x1="92.15" y1="337.2" x2="92.15" y2="334.2" stroke="#000" stroke-width="1"/>
<line x1="109.78" y1="337.2" x2="109.78" y2="335.2" stroke="#000" stroke-width="1"/>
<line x1="127.4" y1="337.2" x2="127.4" y2="334.2" stroke="#000" stroke-width="1"/>
<line x1="145.02" y1="337.2" x2="145.02" y2="335.2" stroke="#000" stroke-width="1"/>
<line x1="162.65" y1="337.2" x2="162.65" y2="334.2" stroke="#000" stroke-width="1"/>
<line x1="180.27" y1="337.2" x2="180.27" y2="335.2" stroke="#000" stroke-width="1"/>
<line x1="197.9" y1="337.2" x2="197.9" y2="334.2" stroke="#000" stroke-width="1"/>
<line x1="215.52" y1="337.2" x2="215.52" y2="335.2" stroke="#000" stroke-width="1"/>
<line x1="233.15" y1="337.2" x2="233.15" y2="334.2" stroke="#000" stroke-width="1"/>
<line x1="250.78" y1="337.2" x2="250.78" y2="335.2" stroke="#000" stroke-width="1"/>
<line x1="268.4" y1="337.2" x2="268.4" y2="334.2" stroke="#000" stroke-width="1"/>
<line x1="56.9" y1="325.06" x2="58.9" y2="325.06" stroke="#000" stroke-width="1"/>
<line x1="56.9" y1="312.92" x2="59.9" y2="312.92" stroke="#000" stroke-width="1"/>
<line x1="56.9" y1="300.77" x2="58.9" y2="300.77" stroke="#000" stroke-width="1"/>
<line x1="56.9" y1="288.63" x2="59.9" y2="288.63" stroke="#000" stroke-width="1"/>
<line x1="56.9" y1="276.49" x2="58.9" y2="276.49" stroke="#000" stroke-width="1"/>
<line x1="56.9" y1="264.35" x2="59.9" y2="264.35" stroke="#000" stroke-width="1"/>
<line x1="56.9" y1="252.21" x2="58.9" y2="252.21" stroke="#000" stroke-width="1"/>
<line x1="56.9" y1="240.07" x2="59.9" y2="240.07" stroke="#000" stroke-width="1"/>
<line x1="56.9" y1="227.92" x2="58.9" y2="227.92" stroke="#000" stroke-width="1"/>
<line x1="56.9" y1="215.78" x2="59.9" y2="215.78" stroke="#000" stroke-width="1"/>
<line x1="56.9" y1="203.64" x2="58.9" y2="203.64" stroke="#000" stroke-width="1"/>
<text x="56.9" y="348.6" font-size="10" font-weight="bold" text-anchor="middle" textLength="15" lengthAdjust="spacingAndGlyphs">0.0</text>
<text x="92.15" y="348.6" font-size="10" font-weight="bold" text-anchor="middle" textLength="15" lengthAdjust="spacingAndGlyphs">0.1</text>
<text x="127.4" y="348.6" font-size="10" font-weight="bold" text-anchor="middle" textLength="15" lengthAdjust="spacingAndGlyphs">0.2</text>
<text x="162.65" y="348.6" font-size="10" font-weight="bold" text-anchor="middle" textLength="15" lengthAdjust="spacingAndGlyphs">0.3</text>
<text x="197.9" y="348.6" font-size="10" font-weight="bold" text-anchor="middle" textLength="15" lengthAdjust="spacingAndGlyphs">0.4</text>
<text x="233.15" y="348.6" font-size="10" font-weight="bold" text-anchor="middle" textLength="15" lengthAdjust="spacingAndGlyphs">0.5</text>
<text x="268.4" y="348.6" font-size="10" font-weight="bold" text-anchor="middle" textLength="15" lengthAdjust="spacingAndGlyphs">0.6</text>
<text x="52.6" y="339.6" font-size="10" font-weight="bold" text-anchor="end" textLength="5.67" lengthAdjust="spacingAndGlyphs">0</text>
<text x="52.6" y="315.32" font-size="10" font-weight="bold" text-anchor="end" textLength="11.33" lengthAdjust="spacingAndGlyphs">30</text>
<text x="52.6" y="291.03" font-size="10" font-weight="bold" text-anchor="end" textLength="11.33" lengthAdjust="spacingAndGlyphs">60</text>
<text x="52.6" y="266.75" font-size="10" font-weight="bold" text-anchor="end" textLength="11.33" lengthAdjust="spacingAndGlyphs">90</text>
<text x="52.6" y="242.47" font-size="10" font-weight="bold" text-anchor="end" textLength="17" lengthAdjust="spacingAndGlyphs">120</text>
<text x="52.6" y="218.18" font-size="10" font-weight="bold" text-anchor="end" textLength="17" lengthAdjust="spacingAndGlyphs">150</text>
<text x="52.6" y="193.9" font-size="10" font-weight="bold" text-anchor="end" textLength="17" lengthAdjust="spacingAndGlyphs">180</text>
<text x="249.6" y="200.4" font-size="8.8" font-weight="bold" textLength="17.2" lengthAdjust="spacingAndGlyphs">424</text>
<text x="134.3" y="365.3" font-size="11.6" font-weight="bold" textLength="55.6" lengthAdjust="spacingAndGlyphs">C-rates / C</text>
<text transform="translate(32.6,324) rotate(-90)" font-size="11.6" font-weight="bold" textLength="93.7" lengthAdjust="spacingAndGlyphs">Capacity / mAh g</text>
<text transform="translate(25.4,229.4) rotate(-90)" font-size="8.4" font-weight="bold">-1</text>
<text x="18.4" y="202.7" font-size="18.5" font-weight="bold">b</text>
<rect x="372.75" y="207.11" width="18" height="129.09" fill="#f9bb80"/>
<rect x="373.05" y="239.6" width="17.4" height="96.6" fill="#d6cfa8"/>
<rect x="408" y="262.96" width="18" height="73.24" fill="#f9bb80"/>
<rect x="408.3" y="275.74" width="17.4" height="60.46" fill="#d6cfa8"/>
<rect x="443.25" y="288.91" width="18" height="47.29" fill="#f9bb80"/>
<rect x="443.55" y="297.4" width="17.4" height="38.8" fill="#d6cfa8"/>
<rect x="478.5" y="299.02" width="18" height="37.18" fill="#f9bb80"/>
<rect x="478.8" y="303.95" width="17.4" height="32.25" fill="#d6cfa8"/>
<rect x="513.75" y="310.33" width="18" height="25.87" fill="#f9bb80"/>
<text x="372.5" y="229.2" font-size="9" fill="#3c2c1c" textLength="21.5" lengthAdjust="spacingAndGlyphs" stroke="#3c2c1c" stroke-width="0.35">24.7%</text>
<text x="405.9" y="273.2" font-size="9" fill="#3c2c1c" textLength="22.1" lengthAdjust="spacingAndGlyphs" stroke="#3c2c1c" stroke-width="0.35">17.4%</text>
<text x="441.4" y="295.6" font-size="9" fill="#3c2c1c" textLength="22.2" lengthAdjust="spacingAndGlyphs" stroke="#3c2c1c" stroke-width="0.35">18.0%</text>
<text x="477" y="304.8" font-size="9" fill="#3c2c1c" textLength="22.2" lengthAdjust="spacingAndGlyphs" stroke="#3c2c1c" stroke-width="0.35">13.3%</text>
<rect x="461" y="247.3" width="14.7" height="7" fill="#f9bb80"/>
<rect x="461" y="257.5" width="14.7" height="7" fill="#f6f8f1"/>
<text x="478.4" y="253.5" font-size="8.1" fill="#222" textLength="70.6" lengthAdjust="spacing">increased C-rates</text>
<text x="478.4" y="263.6" font-size="8.1" fill="#222" textLength="72.5" lengthAdjust="spacing">decreased C-rates</text>
<rect x="346.5" y="190.7" width="211.5" height="145.5" fill="none" stroke="#000" stroke-width="1.2"/>
<line x1="346.5" y1="336.2" x2="346.5" y2="333.2" stroke="#000" stroke-width="1"/>
<line x1="364.12" y1="336.2" x2="364.12" y2="334.2" stroke="#000" stroke-width="1"/>
<line x1="381.75" y1="336.2" x2="381.75" y2="333.2" stroke="#000" stroke-width="1"/>
<line x1="399.38" y1="336.2" x2="399.38" y2="334.2" stroke="#000" stroke-width="1"/>
<line x1="417" y1="336.2" x2="417" y2="333.2" stroke="#000" stroke-width="1"/>
<line x1="434.62" y1="336.2" x2="434.62" y2="334.2" stroke="#000" stroke-width="1"/>
<line x1="452.25" y1="336.2" x2="452.25" y2="333.2" stroke="#000" stroke-width="1"/>
<line x1="469.88" y1="336.2" x2="469.88" y2="334.2" stroke="#000" stroke-width="1"/>
<line x1="487.5" y1="336.2" x2="487.5" y2="333.2" stroke="#000" stroke-width="1"/>
<line x1="505.12" y1="336.2" x2="505.12" y2="334.2" stroke="#000" stroke-width="1"/>
<line x1="522.75" y1="336.2" x2="522.75" y2="333.2" stroke="#000" stroke-width="1"/>
<line x1="540.38" y1="336.2" x2="540.38" y2="334.2" stroke="#000" stroke-width="1"/>
<line x1="558" y1="336.2" x2="558" y2="333.2" stroke="#000" stroke-width="1"/>
<line x1="346.5" y1="324.07" x2="348.5" y2="324.07" stroke="#000" stroke-width="1"/>
<line x1="346.5" y1="311.95" x2="349.5" y2="311.95" stroke="#000" stroke-width="1"/>
<line x1="346.5" y1="299.82" x2="348.5" y2="299.82" stroke="#000" stroke-width="1"/>
<line x1="346.5" y1="287.7" x2="349.5" y2="287.7" stroke="#000" stroke-width="1"/>
<line x1="346.5" y1="275.57" x2="348.5" y2="275.57" stroke="#000" stroke-width="1"/>
<line x1="346.5" y1="263.45" x2="349.5" y2="263.45" stroke="#000" stroke-width="1"/>
<line x1="346.5" y1="251.32" x2="348.5" y2="251.32" stroke="#000" stroke-width="1"/>
<line x1="346.5" y1="239.2" x2="349.5" y2="239.2" stroke="#000" stroke-width="1"/>
<line x1="346.5" y1="227.07" x2="348.5" y2="227.07" stroke="#000" stroke-width="1"/>
<line x1="346.5" y1="214.95" x2="349.5" y2="214.95" stroke="#000" stroke-width="1"/>
<line x1="346.5" y1="202.82" x2="348.5" y2="202.82" stroke="#000" stroke-width="1"/>
<text x="346.5" y="347.83" font-size="9.8" text-anchor="middle" textLength="15.2" lengthAdjust="spacingAndGlyphs">0.0</text>
<text x="381.75" y="347.83" font-size="9.8" text-anchor="middle" textLength="15.2" lengthAdjust="spacingAndGlyphs">0.1</text>
<text x="417" y="347.83" font-size="9.8" text-anchor="middle" textLength="15.2" lengthAdjust="spacingAndGlyphs">0.2</text>
<text x="452.25" y="347.83" font-size="9.8" text-anchor="middle" textLength="15.2" lengthAdjust="spacingAndGlyphs">0.3</text>
<text x="487.5" y="347.83" font-size="9.8" text-anchor="middle" textLength="15.2" lengthAdjust="spacingAndGlyphs">0.4</text>
<text x="522.75" y="347.83" font-size="9.8" text-anchor="middle" textLength="15.2" lengthAdjust="spacingAndGlyphs">0.5</text>
<text x="558" y="347.83" font-size="9.8" text-anchor="middle" textLength="15.2" lengthAdjust="spacingAndGlyphs">0.6</text>
<text x="342" y="338.6" font-size="10" font-weight="bold" text-anchor="end" textLength="5.53" lengthAdjust="spacingAndGlyphs">0</text>
<text x="342" y="314.35" font-size="10" font-weight="bold" text-anchor="end" textLength="11.07" lengthAdjust="spacingAndGlyphs">30</text>
<text x="342" y="290.1" font-size="10" font-weight="bold" text-anchor="end" textLength="11.07" lengthAdjust="spacingAndGlyphs">60</text>
<text x="342" y="265.85" font-size="10" font-weight="bold" text-anchor="end" textLength="11.07" lengthAdjust="spacingAndGlyphs">90</text>
<text x="342" y="241.6" font-size="10" font-weight="bold" text-anchor="end" textLength="16.6" lengthAdjust="spacingAndGlyphs">120</text>
<text x="342" y="217.35" font-size="10" font-weight="bold" text-anchor="end" textLength="16.6" lengthAdjust="spacingAndGlyphs">150</text>
<text x="342" y="193.1" font-size="10" font-weight="bold" text-anchor="end" textLength="16.6" lengthAdjust="spacingAndGlyphs">180</text>
<text x="538.6" y="199.6" font-size="8.8" font-weight="bold" textLength="16.4" lengthAdjust="spacingAndGlyphs">622</text>
<text x="424" y="364.3" font-size="11.6" font-weight="bold" textLength="56" lengthAdjust="spacingAndGlyphs">C-rates / C</text>
<text transform="translate(321.6,323) rotate(-90)" font-size="11.6" font-weight="bold" textLength="93.8" lengthAdjust="spacingAndGlyphs">Capacity / mAh g</text>
<text transform="translate(315,228.6) rotate(-90)" font-size="8.4" font-weight="bold">-1</text>
<text x="311.5" y="204.4" font-size="18.5" font-weight="bold">e</text>
<clipPath id="clipc"><rect x="55" y="368.9" width="212.4" height="147.1"/></clipPath>
<g clip-path="url(#clipc)" fill="none" stroke-width="1.35" stroke-linejoin="round" stroke-linecap="round">
<path d="M56.6,514 C56.65,511 56.75,503.33 56.9,496 C57.05,488.67 57.07,478.33 57.5,470 C57.93,461.67 58.92,451 59.5,446 C60.08,441 60.1,441.6 61,440 C61.9,438.4 61.63,438.07 64.9,436.4 C68.17,434.73 73.53,432.12 80.6,430 C87.67,427.88 98.73,425.28 107.3,423.7 C115.87,422.12 124.33,422 132,420.5 C139.67,419 145.85,416.83 153.3,414.7 C160.75,412.57 168.92,410.23 176.7,407.7 C184.48,405.17 192.23,402.42 200,399.5 C207.77,396.58 217.85,392.42 223.3,390.2 C228.75,387.98 231.13,386.87 232.7,386.2" stroke="#151515"/>
<path d="M56.3,389.3 C56.4,389.5 56.22,388.9 56.9,390.5 C57.58,392.1 59.1,396.25 60.4,398.9 C61.7,401.55 63.08,404.07 64.7,406.4 C66.32,408.73 68.32,410.93 70.1,412.9 C71.88,414.87 73.62,416.6 75.4,418.2 C77.18,419.8 79,421.15 80.8,422.5 C82.6,423.85 84,424.97 86.2,426.3 C88.4,427.63 90.48,428.83 94,430.5 C97.52,432.17 100.85,434.43 107.3,436.3 C113.75,438.17 123.92,440.13 132.7,441.7 C141.48,443.27 151.17,444.32 160,445.7 C168.83,447.08 179.7,448.45 185.7,450 C191.7,451.55 193.28,452.83 196,455 C198.72,457.17 200.05,459.67 202,463 C203.95,466.33 206.28,471 207.7,475 C209.12,479 209.85,483 210.5,487 C211.15,491 211.42,497 211.6,499" stroke="#151515"/>
<path d="M56.5,503 C56.57,500.83 56.73,496.33 56.9,490 C57.07,483.67 56.98,472.5 57.5,465 C58.02,457.5 58.53,450.23 60,445 C61.47,439.77 62.87,437.28 66.3,433.6 C69.73,429.92 74.65,426.48 80.6,422.9 C86.55,419.32 93.43,415.8 102,412.1 C110.57,408.4 124,403.88 132,400.7 C140,397.52 144.53,395.28 150,393 C155.47,390.72 162.33,388 164.8,387" stroke="#bd3540"/>
<path d="M55.8,393.6 C55.92,394.33 56,395.87 56.5,398 C57,400.13 57.88,403.2 58.8,406.4 C59.72,409.6 60.83,413.98 62,417.2 C63.17,420.42 64.45,423.2 65.8,425.7 C67.15,428.2 68.5,430.05 70.1,432.2 C71.7,434.35 73.43,436.65 75.4,438.6 C77.37,440.55 79.47,442.37 81.9,443.9 C84.33,445.43 86.98,446.67 90,447.8 C93.02,448.93 95.95,449.38 100,450.7 C104.05,452.02 109.53,453.92 114.3,455.7 C119.07,457.48 124.8,459.85 128.6,461.4 C132.4,462.95 134.72,463.8 137.1,465 C139.48,466.2 140.98,467.28 142.9,468.6 C144.82,469.92 146.7,471 148.6,472.9 C150.5,474.8 152.63,477.63 154.3,480 C155.97,482.37 157.3,484.48 158.6,487.1 C159.9,489.72 161.38,493.72 162.1,495.7 C162.82,497.68 162.77,498.45 162.9,499" stroke="#bd3540"/>
<path d="M56.4,496 C56.63,491.67 57.28,478 57.8,470 C58.32,462 58.8,453.35 59.5,448 C60.2,442.65 59.68,442.22 62,437.9 C64.32,433.58 67.92,428.07 73.4,422.1 C78.88,416.13 87.28,407.93 94.9,402.1 C102.52,396.27 115.07,389.6 119.1,387.1" stroke="#2a2a90"/>
<path d="M56,405 C56.33,407.17 57.23,413.95 58,418 C58.77,422.05 59.6,425.97 60.6,429.3 C61.6,432.63 62.38,435.5 64,438 C65.62,440.5 66.87,441.12 70.3,444.3 C73.73,447.48 79.83,452.73 84.6,457.1 C89.37,461.47 94.9,466.52 98.9,470.5 C102.9,474.48 105.8,477.58 108.6,481 C111.4,484.42 113.88,488 115.7,491 C117.52,494 118.87,497.67 119.5,499" stroke="#2a2a90"/>
<path d="M56.4,492 C56.53,488.33 56.75,478.78 57.2,470 C57.65,461.22 57.97,445.63 59.1,439.3 C60.23,432.97 61.62,435.57 64,432 C66.38,428.43 69.9,422.73 73.4,417.9 C76.9,413.07 80.95,408.13 85,403 C89.05,397.87 95.58,389.75 97.7,387.1" stroke="#4ab252"/>
<path d="M56,410 C56.25,412.5 56.83,420.5 57.5,425 C58.17,429.5 59.07,433.78 60,437 C60.93,440.22 61.38,440.95 63.1,444.3 C64.82,447.65 66.72,451.63 70.3,457.1 C73.88,462.57 80.8,471.62 84.6,477.1 C88.4,482.58 90.82,486.35 93.1,490 C95.38,493.65 97.43,497.5 98.3,499" stroke="#4ab252"/>
<path d="M56.5,489 C56.58,485.83 56.8,478.77 57,470 C57.2,461.23 56.7,444.07 57.7,436.4 C58.7,428.73 60.85,428.28 63,424 C65.15,419.72 67.77,415.37 70.6,410.7 C73.43,406.03 77.27,400.05 80,396 C82.73,391.95 85.83,388 87,386.4" stroke="#66d4e8"/>
<path d="M56,415 C56.17,417.17 56.58,424.17 57,428 C57.42,431.83 57.72,434.82 58.5,438 C59.28,441.18 59.73,442.95 61.7,447.1 C63.67,451.25 67.43,457.65 70.3,462.9 C73.17,468.15 76.17,473.13 78.9,478.6 C81.63,484.07 85.32,492.3 86.7,495.7 C88.08,499.1 87.12,498.45 87.2,499" stroke="#66d4e8"/>
</g>
<text x="75" y="508.7" font-size="8.8" font-weight="bold" textLength="22" lengthAdjust="spacingAndGlyphs">0.5 C</text>
<text x="101" y="508.7" font-size="8.8" font-weight="bold" textLength="23" lengthAdjust="spacingAndGlyphs">0.4 C</text>
<text x="127" y="508.7" font-size="8.8" font-weight="bold" textLength="23" lengthAdjust="spacingAndGlyphs">0.3 C</text>
<text x="152.5" y="508.7" font-size="8.8" font-weight="bold" textLength="23.5" lengthAdjust="spacingAndGlyphs">0.2 C</text>
<text x="203" y="507.7" font-size="8.8" font-weight="bold" textLength="24.1" lengthAdjust="spacingAndGlyphs">0.1 C</text>
<rect x="55" y="368.9" width="212.4" height="147.1" fill="none" stroke="#000" stroke-width="1.2"/>
<line x1="57" y1="516" x2="57" y2="513" stroke="#000" stroke-width="1"/>
<line x1="78.03" y1="516" x2="78.03" y2="514" stroke="#000" stroke-width="1"/>
<line x1="99.06" y1="516" x2="99.06" y2="513" stroke="#000" stroke-width="1"/>
<line x1="120.09" y1="516" x2="120.09" y2="514" stroke="#000" stroke-width="1"/>
<line x1="141.12" y1="516" x2="141.12" y2="513" stroke="#000" stroke-width="1"/>
<line x1="162.15" y1="516" x2="162.15" y2="514" stroke="#000" stroke-width="1"/>
<line x1="183.18" y1="516" x2="183.18" y2="513" stroke="#000" stroke-width="1"/>
<line x1="204.21" y1="516" x2="204.21" y2="514" stroke="#000" stroke-width="1"/>
<line x1="225.24" y1="516" x2="225.24" y2="513" stroke="#000" stroke-width="1"/>
<line x1="246.27" y1="516" x2="246.27" y2="514" stroke="#000" stroke-width="1"/>
<line x1="267.3" y1="516" x2="267.3" y2="513" stroke="#000" stroke-width="1"/>
<line x1="55" y1="511.95" x2="57" y2="511.95" stroke="#000" stroke-width="1"/>
<line x1="55" y1="499" x2="58" y2="499" stroke="#000" stroke-width="1"/>
<line x1="55" y1="486.05" x2="57" y2="486.05" stroke="#000" stroke-width="1"/>
<line x1="55" y1="473.1" x2="58" y2="473.1" stroke="#000" stroke-width="1"/>
<line x1="55" y1="460.15" x2="57" y2="460.15" stroke="#000" stroke-width="1"/>
<line x1="55" y1="447.2" x2="58" y2="447.2" stroke="#000" stroke-width="1"/>
<line x1="55" y1="434.25" x2="57" y2="434.25" stroke="#000" stroke-width="1"/>
<line x1="55" y1="421.3" x2="58" y2="421.3" stroke="#000" stroke-width="1"/>
<line x1="55" y1="408.35" x2="57" y2="408.35" stroke="#000" stroke-width="1"/>
<line x1="55" y1="395.4" x2="58" y2="395.4" stroke="#000" stroke-width="1"/>
<line x1="55" y1="382.45" x2="57" y2="382.45" stroke="#000" stroke-width="1"/>
<text x="57" y="528.78" font-size="10.5" font-weight="bold" text-anchor="middle">0</text>
<text x="99.06" y="528.78" font-size="10.5" font-weight="bold" text-anchor="middle">40</text>
<text x="141.12" y="528.78" font-size="10.5" font-weight="bold" text-anchor="middle">80</text>
<text x="183.18" y="528.78" font-size="10.5" font-weight="bold" text-anchor="middle">120</text>
<text x="225.24" y="528.78" font-size="10.5" font-weight="bold" text-anchor="middle">160</text>
<text x="267.3" y="528.78" font-size="10.5" font-weight="bold" text-anchor="middle">200</text>
<text x="51.3" y="502.78" font-size="10.5" font-weight="bold" text-anchor="end" textLength="16" lengthAdjust="spacingAndGlyphs">3.0</text>
<text x="51.3" y="476.88" font-size="10.5" font-weight="bold" text-anchor="end" textLength="16" lengthAdjust="spacingAndGlyphs">3.3</text>
<text x="51.3" y="450.98" font-size="10.5" font-weight="bold" text-anchor="end" textLength="16" lengthAdjust="spacingAndGlyphs">3.6</text>
<text x="51.3" y="425.08" font-size="10.5" font-weight="bold" text-anchor="end" textLength="16" lengthAdjust="spacingAndGlyphs">3.9</text>
<text x="51.3" y="399.18" font-size="10.5" font-weight="bold" text-anchor="end" textLength="16" lengthAdjust="spacingAndGlyphs">4.2</text>
<text x="51.3" y="373.28" font-size="10.5" font-weight="bold" text-anchor="end" textLength="16" lengthAdjust="spacingAndGlyphs">4.5</text>
<text x="249.2" y="379.4" font-size="10" font-weight="bold" textLength="17" lengthAdjust="spacingAndGlyphs">424</text>
<text x="110.3" y="545.4" font-size="11.6" font-weight="bold" textLength="94" lengthAdjust="spacingAndGlyphs">Capacity /mAh g</text>
<text x="204.8" y="540.3" font-size="8.4" font-weight="bold">-1</text>
<text transform="translate(28.6,471.9) rotate(-90)" font-size="11.6" font-weight="bold" textLength="58.9" lengthAdjust="spacingAndGlyphs">Voltage / V</text>
<text x="17.6" y="370.6" font-size="18.5" font-weight="bold">c</text>
<clipPath id="clipf"><rect x="346.6" y="369.5" width="210.6" height="145.5"/></clipPath>
<g clip-path="url(#clipf)" fill="none" stroke-width="1.35" stroke-linejoin="round" stroke-linecap="round">
<path d="M347,500 C347.1,496.67 347.35,486.67 347.6,480 C347.85,473.33 348.1,465.67 348.5,460 C348.9,454.33 349.18,448.98 350,446 C350.82,443.02 349.97,443.7 353.4,442.1 C356.83,440.5 364.17,438.18 370.6,436.4 C377.03,434.62 383.43,433.18 392,431.4 C400.57,429.62 412.33,427.72 422,425.7 C431.67,423.68 442,421.5 450,419.3 C458,417.1 463.33,414.83 470,412.5 C476.67,410.17 482.78,407.85 490,405.3 C497.22,402.75 505.72,400.3 513.3,397.2 C520.88,394.1 531.8,388.45 535.5,386.7" stroke="#151515"/>
<path d="M347.3,388.8 C347.47,389.05 347.52,388.77 348.3,390.3 C349.08,391.83 350.33,395.1 352,398 C353.67,400.9 356.13,404.98 358.3,407.7 C360.47,410.42 362.77,412.3 365,414.3 C367.23,416.3 368.37,417.25 371.7,419.7 C375.03,422.15 380.57,426.23 385,429 C389.43,431.77 393.85,434.3 398.3,436.3 C402.75,438.3 407.47,439.77 411.7,441 C415.93,442.23 417.32,442.73 423.7,443.7 C430.08,444.67 440.73,445.55 450,446.8 C459.27,448.05 472.47,449.83 479.3,451.2 C486.13,452.57 487.93,453.48 491,455 C494.07,456.52 495.37,457.8 497.7,460.3 C500.03,462.8 503.17,466.93 505,470 C506.83,473.07 507.67,475.53 508.7,478.7 C509.73,481.87 510.58,485.65 511.2,489 C511.82,492.35 512.2,497.17 512.4,498.8" stroke="#151515"/>
<path d="M347.4,496 C347.57,491.33 347.8,476.17 348.4,468 C349,459.83 350.07,452.17 351,447 C351.93,441.83 352.78,439.88 354,437 C355.22,434.12 354.25,432.82 358.3,429.7 C362.35,426.58 371.63,421.87 378.3,418.3 C384.97,414.73 390.73,411.73 398.3,408.3 C405.87,404.87 416,401.25 423.7,397.7 C431.4,394.15 441.03,388.78 444.5,387" stroke="#bd3540"/>
<path d="M347.2,398.6 C347.77,400.62 349.08,406.63 350.6,410.7 C352.12,414.77 354.17,418.95 356.3,423 C358.43,427.05 360.35,431.22 363.4,435 C366.45,438.78 370.35,442.48 374.6,445.7 C378.85,448.92 384.15,451.92 388.9,454.3 C393.65,456.68 398.35,458.1 403.1,460 C407.85,461.9 413.58,463.8 417.4,465.7 C421.22,467.6 423.57,469.02 426,471.4 C428.43,473.78 430.33,477.23 432,480 C433.67,482.77 434.83,485.05 436,488 C437.17,490.95 438.5,496.08 439,497.7" stroke="#bd3540"/>
<path d="M347.4,496 C347.6,491.33 348.08,476 348.6,468 C349.12,460 349.7,453 350.5,448 C351.3,443 352.1,441.83 353.4,438 C354.7,434.17 354.15,430.05 358.3,425 C362.45,419.95 372.73,412.15 378.3,407.7 C383.87,403.25 386.68,401.73 391.7,398.3 C396.72,394.87 405.62,388.97 408.4,387.1" stroke="#2a2a90"/>
<path d="M347,407.9 C347.33,409.92 348.25,415.98 349,420 C349.75,424.02 350.57,428.43 351.5,432 C352.43,435.57 352.42,438.17 354.6,441.4 C356.78,444.63 361.27,448.3 364.6,451.4 C367.93,454.5 370.55,456.67 374.6,460 C378.65,463.33 384.62,467.58 388.9,471.4 C393.18,475.22 397.45,479.8 400.3,482.9 C403.15,486 404.55,487.57 406,490 C407.45,492.43 408.5,496.25 409,497.5" stroke="#2a2a90"/>
<path d="M347.4,496 C347.53,491.33 347.83,476.5 348.2,468 C348.57,459.5 348.88,450.83 349.6,445 C350.32,439.17 351.05,437.45 352.5,433 C353.95,428.55 355.1,422.97 358.3,418.3 C361.5,413.63 366.2,410.2 371.7,405 C377.2,399.8 388.03,390.08 391.3,387.1" stroke="#4ab252"/>
<path d="M347,412 C347.33,414.67 348.25,423.33 349,428 C349.75,432.67 350.57,436.57 351.5,440 C352.43,443.43 351.95,444.78 354.6,448.6 C357.25,452.42 362.88,457.67 367.4,462.9 C371.92,468.13 377.42,474.53 381.7,480 C385.98,485.47 391.05,492.75 393.1,495.7 C395.15,498.65 393.85,497.37 394,497.7" stroke="#4ab252"/>
<path d="M347.4,496 C347.5,491.33 347.77,476.5 348,468 C348.23,459.5 348.22,451.33 348.8,445 C349.38,438.67 349.92,435.33 351.5,430 C353.08,424.67 354.93,418.28 358.3,413 C361.67,407.72 367.98,402.62 371.7,398.3 C375.42,393.98 379.12,388.97 380.6,387.1" stroke="#66d4e8"/>
<path d="M347,417 C347.25,419.5 347.92,427.67 348.5,432 C349.08,436.33 349.73,439.77 350.5,443 C351.27,446.23 351.47,448.08 353.1,451.4 C354.73,454.72 357.2,458.13 360.3,462.9 C363.4,467.67 368.13,474.27 371.7,480 C375.27,485.73 380.03,494.42 381.7,497.3" stroke="#66d4e8"/>
</g>
<text x="357.5" y="508.3" font-size="8.8" font-weight="bold" textLength="22.7" lengthAdjust="spacingAndGlyphs">0.5 C</text>
<text x="381.8" y="508.3" font-size="8.8" font-weight="bold" textLength="22.4" lengthAdjust="spacingAndGlyphs">0.4 C</text>
<text x="407" y="508.3" font-size="8.8" font-weight="bold" textLength="23.3" lengthAdjust="spacingAndGlyphs">0.3 C</text>
<text x="432.7" y="508.3" font-size="8.8" font-weight="bold" textLength="24.5" lengthAdjust="spacingAndGlyphs">0.2 C</text>
<text x="506.8" y="507.4" font-size="8.8" font-weight="bold" textLength="25.7" lengthAdjust="spacingAndGlyphs">0.1 C</text>
<rect x="346.6" y="369.5" width="210.6" height="145.5" fill="none" stroke="#000" stroke-width="1.2"/>
<line x1="347.5" y1="515" x2="347.5" y2="512" stroke="#000" stroke-width="1"/>
<line x1="368.5" y1="515" x2="368.5" y2="513" stroke="#000" stroke-width="1"/>
<line x1="389.5" y1="515" x2="389.5" y2="512" stroke="#000" stroke-width="1"/>
<line x1="410.5" y1="515" x2="410.5" y2="513" stroke="#000" stroke-width="1"/>
<line x1="431.5" y1="515" x2="431.5" y2="512" stroke="#000" stroke-width="1"/>
<line x1="452.5" y1="515" x2="452.5" y2="513" stroke="#000" stroke-width="1"/>
<line x1="473.5" y1="515" x2="473.5" y2="512" stroke="#000" stroke-width="1"/>
<line x1="494.5" y1="515" x2="494.5" y2="513" stroke="#000" stroke-width="1"/>
<line x1="515.5" y1="515" x2="515.5" y2="512" stroke="#000" stroke-width="1"/>
<line x1="536.5" y1="515" x2="536.5" y2="513" stroke="#000" stroke-width="1"/>
<line x1="557.5" y1="515" x2="557.5" y2="512" stroke="#000" stroke-width="1"/>
<line x1="346.6" y1="510.87" x2="348.6" y2="510.87" stroke="#000" stroke-width="1"/>
<line x1="346.6" y1="498" x2="349.6" y2="498" stroke="#000" stroke-width="1"/>
<line x1="346.6" y1="485.13" x2="348.6" y2="485.13" stroke="#000" stroke-width="1"/>
<line x1="346.6" y1="472.26" x2="349.6" y2="472.26" stroke="#000" stroke-width="1"/>
<line x1="346.6" y1="459.39" x2="348.6" y2="459.39" stroke="#000" stroke-width="1"/>
<line x1="346.6" y1="446.52" x2="349.6" y2="446.52" stroke="#000" stroke-width="1"/>
<line x1="346.6" y1="433.65" x2="348.6" y2="433.65" stroke="#000" stroke-width="1"/>
<line x1="346.6" y1="420.78" x2="349.6" y2="420.78" stroke="#000" stroke-width="1"/>
<line x1="346.6" y1="407.91" x2="348.6" y2="407.91" stroke="#000" stroke-width="1"/>
<line x1="346.6" y1="395.04" x2="349.6" y2="395.04" stroke="#000" stroke-width="1"/>
<line x1="346.6" y1="382.17" x2="348.6" y2="382.17" stroke="#000" stroke-width="1"/>
<text x="347.5" y="528.78" font-size="10.5" font-weight="bold" text-anchor="middle">0</text>
<text x="389.5" y="528.78" font-size="10.5" font-weight="bold" text-anchor="middle">40</text>
<text x="431.5" y="528.78" font-size="10.5" font-weight="bold" text-anchor="middle">80</text>
<text x="473.5" y="528.78" font-size="10.5" font-weight="bold" text-anchor="middle">120</text>
<text x="515.5" y="528.78" font-size="10.5" font-weight="bold" text-anchor="middle">160</text>
<text x="557.5" y="528.78" font-size="10.5" font-weight="bold" text-anchor="middle">200</text>
<text x="342" y="501.78" font-size="10.5" font-weight="bold" text-anchor="end" textLength="16" lengthAdjust="spacingAndGlyphs">3.0</text>
<text x="342" y="476.04" font-size="10.5" font-weight="bold" text-anchor="end" textLength="16" lengthAdjust="spacingAndGlyphs">3.3</text>
<text x="342" y="450.3" font-size="10.5" font-weight="bold" text-anchor="end" textLength="16" lengthAdjust="spacingAndGlyphs">3.6</text>
<text x="342" y="424.56" font-size="10.5" font-weight="bold" text-anchor="end" textLength="16" lengthAdjust="spacingAndGlyphs">3.9</text>
<text x="342" y="398.82" font-size="10.5" font-weight="bold" text-anchor="end" textLength="16" lengthAdjust="spacingAndGlyphs">4.2</text>
<text x="342" y="373.08" font-size="10.5" font-weight="bold" text-anchor="end" textLength="16" lengthAdjust="spacingAndGlyphs">4.5</text>
<text x="537.8" y="380.2" font-size="10" font-weight="bold" textLength="17" lengthAdjust="spacingAndGlyphs">622</text>
<text x="401" y="544.8" font-size="11.6" font-weight="bold" textLength="93.5" lengthAdjust="spacingAndGlyphs">Capacity /mAh g</text>
<text x="494.5" y="539.8" font-size="8.4" font-weight="bold">-1</text>
<text transform="translate(320.6,471.9) rotate(-90)" font-size="11.6" font-weight="bold" textLength="58.2" lengthAdjust="spacingAndGlyphs">Voltage / V</text>
<text x="311.8" y="384.8" font-size="18.5" font-weight="bold">f</text>
<g stroke="#ececec" stroke-width="4" stroke-linecap="round" fill="none"><line x1="169" y1="554" x2="178" y2="561"/><line x1="186" y1="553" x2="196" y2="561"/><line x1="216" y1="552" x2="220" y2="556"/></g>
</g>
</svg>
</body></html>
